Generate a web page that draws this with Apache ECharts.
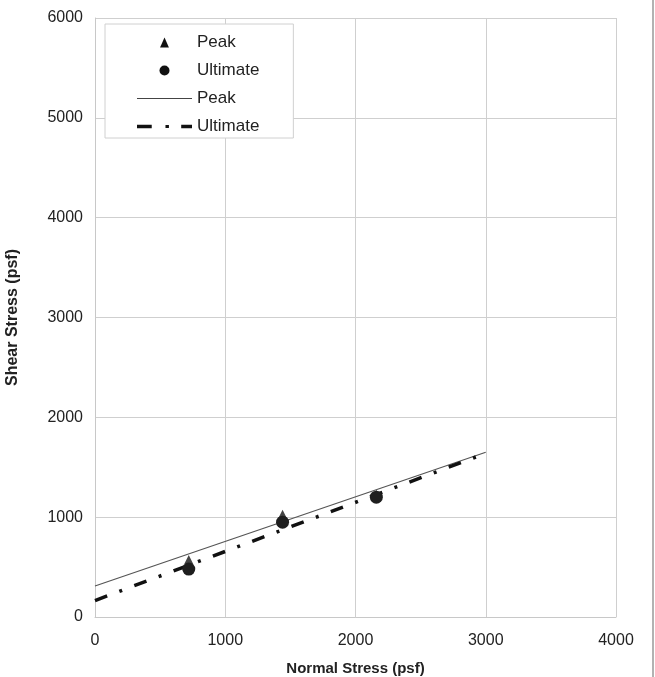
<!DOCTYPE html>
<html>
<head>
<meta charset="utf-8">
<script src="https://cdn.jsdelivr.net/npm/echarts@6/dist/echarts.min.js"></script>
<style>
html,body{margin:0;padding:0;background:#fff;}
#c{width:655px;height:677px;}
</style>
</head>
<body>
<div id="c"></div>
<script>
// Data
var normalStress = [720, 1440, 2160];
var peakShear = [575, 1030, 1230];
var ultimateShear = [480, 950, 1200];
var peakFitX = [0, 3000];
var peakFitY = [310, 1650];
var ultFitX = [0, 3000];
var ultFitY = [165, 1640];
var xTicks = [0, 1000, 2000, 3000, 4000];
var yTicks = [0, 1000, 2000, 3000, 4000, 5000, 6000];
var legendNames = ['Peak', 'Ultimate', 'Peak', 'Ultimate'];

function pairs(xs, ys) { return xs.map(function (x, i) { return [x, ys[i]]; }); }

var chart = echarts.init(document.getElementById('c'), null, {renderer: 'canvas'});
var font = 'Arial, "Liberation Sans", sans-serif';
var seriesIds = ['Peak', 'Ultimate', 'Peak fit', 'Ultimate fit'];
chart.setOption({
  animation: false,
  backgroundColor: '#fff',
  grid: {left: 95, top: 18, width: 521, height: 599, containLabel: false, outerBoundsMode: 'none'},
  xAxis: {
    type: 'value', min: xTicks[0], max: xTicks[xTicks.length - 1], interval: 1000,
    name: 'Normal Stress (psf)', nameLocation: 'middle', nameGap: 44,
    nameTextStyle: {fontFamily: font, fontSize: 15, fontWeight: 'bold', color: '#222'},
    axisLine: {show: true, lineStyle: {color: '#c8c8c8'}},
    axisTick: {show: false},
    axisLabel: {fontFamily: font, fontSize: 16, color: '#222', margin: 16,
      formatter: function (v) { return String(v); }},
    splitLine: {show: true, lineStyle: {color: '#cfcfcf', width: 1}}
  },
  yAxis: {
    type: 'value', min: yTicks[0], max: yTicks[yTicks.length - 1], interval: 1000,
    name: 'Shear Stress (psf)', nameLocation: 'middle', nameGap: 74, nameRotate: 90,
    nameTextStyle: {fontFamily: font, fontSize: 16, fontWeight: 'bold', color: '#222'},
    axisLine: {show: true, lineStyle: {color: '#c8c8c8'}},
    axisTick: {show: false},
    axisLabel: {fontFamily: font, fontSize: 16, color: '#222', margin: 12,
      formatter: function (v) { return String(v); }},
    splitLine: {show: true, lineStyle: {color: '#cfcfcf', width: 1}}
  },
  legend: {
    orient: 'vertical', left: 105, top: 24,
    padding: [10, 34, 3, 32],
    itemWidth: 55, itemHeight: 10, itemGap: 11,
    symbolKeepAspect: true,
    backgroundColor: '#fff', borderColor: '#d0d0d0', borderWidth: 1,
    textStyle: {fontFamily: font, fontSize: 17, color: '#222'},
    data: [
      {name: seriesIds[0], icon: 'path://M4,0 L8,9 L0,9 Z', itemStyle: {color: '#111'}},
      {name: seriesIds[1], icon: 'circle', itemStyle: {color: '#111'}},
      {name: seriesIds[2], icon: 'path://M0,0 L55,0 L55,1 L0,1 Z', itemStyle: {color: '#444'}},
      {name: seriesIds[3], icon: 'path://M0,0 L15,0 L15,3.5 L0,3.5 Z M29,0.3 L32.5,0.3 L32.5,3.2 L29,3.2 Z M45,0 L56,0 L56,3.5 L45,3.5 Z', itemStyle: {color: '#111'}}
    ],
    formatter: function (n) { return legendNames[seriesIds.indexOf(n)]; }
  },
  graphic: [{
    type: 'line', shape: {x1: 653, y1: 0, x2: 653, y2: 677},
    style: {stroke: '#999', lineWidth: 1.5}, silent: true
  }],
  series: [
    {
      name: seriesIds[0], type: 'scatter', symbol: 'triangle', symbolSize: 9,
      itemStyle: {color: '#444', opacity: 1}, z: 3,
      data: pairs(normalStress, peakShear)
    },
    {
      name: seriesIds[1], type: 'scatter', symbol: 'circle', symbolSize: 13,
      itemStyle: {color: '#1e1e1e', opacity: 1}, z: 4,
      data: pairs(normalStress, ultimateShear)
    },
    {
      name: seriesIds[2], type: 'line', symbol: 'none', showSymbol: false,
      lineStyle: {color: '#555', width: 1.2, type: 'solid'},
      itemStyle: {color: '#555'},
      data: pairs(peakFitX, peakFitY)
    },
    {
      name: seriesIds[3], type: 'line', symbol: 'none', showSymbol: false,
      lineStyle: {color: '#111', width: 3.5, type: [13, 13, 3, 13], cap: 'butt'},
      itemStyle: {color: '#111'},
      data: pairs(ultFitX, ultFitY)
    }
  ]
});
</script>
</body>
</html>
